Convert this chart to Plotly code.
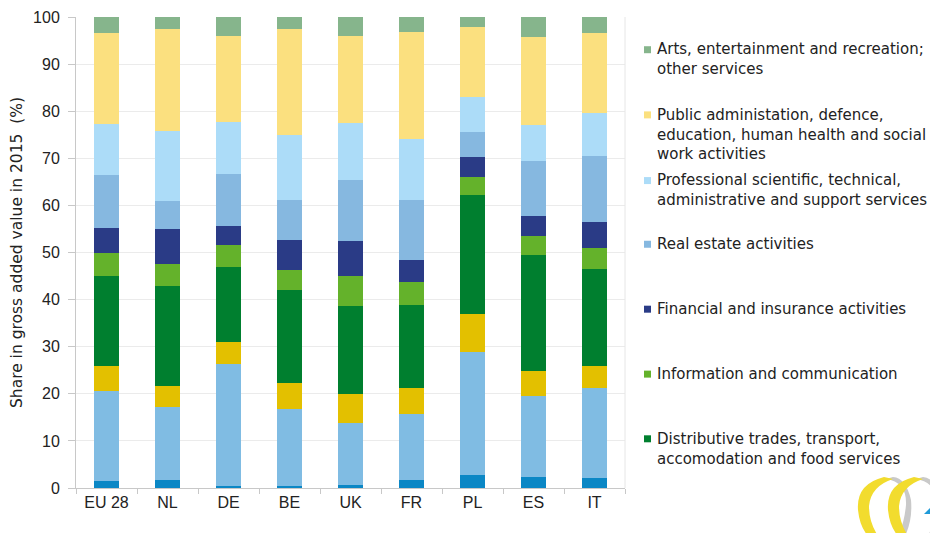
import plotly.graph_objects as go

countries = ["EU 28", "NL", "DE", "BE", "UK", "FR", "PL", "ES", "IT"]

agriculture   = [1.5, 1.7, 0.4, 0.4, 0.6, 1.6, 2.7, 2.4, 2.2]
industry      = [19.0, 15.4, 26.0, 16.4, 13.3, 14.1, 26.2, 17.1, 19.0]
construction  = [5.5, 4.5, 4.7, 5.6, 6.1, 5.5, 8.0, 5.4, 4.8]
distributive  = [19.0, 21.2, 15.8, 19.7, 18.7, 17.6, 25.3, 24.5, 20.5]
information   = [5.0, 4.7, 4.7, 4.2, 6.4, 5.0, 3.9, 4.2, 4.4]
financial     = [5.2, 7.4, 4.1, 6.3, 7.3, 4.6, 4.1, 4.1, 5.5]
real_estate   = [11.3, 6.1, 10.9, 8.5, 12.9, 12.7, 5.3, 11.7, 14.1]
professional  = [10.8, 14.7, 11.1, 13.9, 12.3, 12.9, 7.6, 7.6, 9.2]
public_admin  = [19.2, 21.8, 18.2, 22.5, 18.3, 22.9, 14.8, 18.7, 17.0]
arts          = [3.5, 2.7, 4.1, 2.5, 4.1, 3.1, 2.3, 4.5, 4.1]

series = [
    ("Agriculture, forestry and fishing", agriculture, "#0b87c5", False, None),
    ("Industry", industry, "#80bce3", False, None),
    ("Construction", construction, "#e3c000", False, None),
    ("Distributive trades, transport,<br>accomodation and food services", distributive, "#007f2f", True, 448.5),
    ("Information and communication", information, "#64b22b", True, 374),
    ("Financial and insurance activities", financial, "#2a3b86", True, 309),
    ("Real estate activities", real_estate, "#86b8e0", True, 244),
    ("Professional scientific, technical,<br>administrative and support services", professional, "#acdcf8", True, 190),
    ("Public administation, defence,<br>education, human health and social<br>work activities", public_admin, "#fbe07f", True, 134),
    ("Arts, entertainment and recreation;<br>other services", arts, "#86b58c", True, 59),
]

# reference-pixel -> paper coordinate helpers (plot area 76..625 x 16.5..488)
PX0, PX1, PY0, PY1 = 76.0, 625.0, 16.5, 488.0
def px(x):
    return (x - PX0) / (PX1 - PX0)
def py(y):
    return (PY1 - y) / (PY1 - PY0)

def path(cmds):
    out = []
    for c in cmds:
        if isinstance(c, str):
            out.append(c)
        else:
            out.append("%.5f,%.5f" % (px(c[0]), py(c[1])))
    return " ".join(out)

LINE = 19.5
fig = go.Figure()
annotations = []
shapes = []
for name, vals, color, in_legend, ycen in series:
    fig.add_trace(go.Bar(x=countries, y=vals, name=name.replace("<br>", " "),
                         marker=dict(color=color, line=dict(width=0)),
                         showlegend=False))
    if in_legend:
        nlines = name.count("<br>") + 1
        annotations.append(dict(
            xref="paper", yref="paper", x=px(655), y=py(ycen),
            text=name, showarrow=False, xanchor="left", yanchor="middle", align="left",
            font=dict(family="DejaVu Sans", size=15, color="#222222")))
        first_line_y = ycen - (nlines - 1) * LINE / 2
        shapes.append(dict(type="rect", xref="paper", yref="paper",
                           x0=px(644), x1=px(651),
                           y0=py(first_line_y + 3.5), y1=py(first_line_y - 3.5),
                           fillcolor=color, line=dict(width=0)))

# plot area right border
shapes.append(dict(type="line", xref="paper", yref="paper", x0=1, x1=1, y0=0, y1=1,
                   line=dict(color="#e6e6e6", width=1)))

# small logo in the bottom-right corner
for dx in (0, 30):
    shapes.append(dict(type="path", xref="paper", yref="paper", layer="above",
                       path=path(["M", (886 + dx, 479), "Q", (907 + dx, 482), (906 + dx, 505),
                                  "Q", (904 + dx, 526), (896 + dx, 540), "L", (903 + dx, 540),
                                  "Q", (913 + dx, 522), (911 + dx, 500), "Q", (906 + dx, 478), (893 + dx, 477), "Z"]),
                       fillcolor="#c9c9c9", line=dict(width=0)))
for dx in (0, 30):
    shapes.append(dict(type="path", xref="paper", yref="paper", layer="above",
                       path=path(["M", (884 + dx, 477), "Q", (856 + dx, 484), (858 + dx, 510),
                                  "Q", (860 + dx, 530), (872 + dx, 540), "L", (881 + dx, 540),
                                  "Q", (869 + dx, 525), (869 + dx, 506), "Q", (871 + dx, 486), (893 + dx, 479), "Z"]),
                       fillcolor="#f2dc2e", line=dict(width=0)))
shapes.append(dict(type="path", xref="paper", yref="paper", layer="above",
                   path=path(["M", (924, 514), "L", (940, 498), "L", (940, 514), "Z"]),
                   fillcolor="#1f9ad8", line=dict(width=0)))

# page body has an 8px margin, so figure coordinates = reference - 8
W, H = 930, 525
fig.update_layout(
    barmode="stack",
    bargap=0.6,
    width=W, height=H,
    margin=dict(l=68, r=313, t=8.5, b=45, autoexpand=False),
    paper_bgcolor="white", plot_bgcolor="white",
    font=dict(family="DejaVu Sans", size=14, color="#222222"),
    annotations=annotations,
    shapes=shapes,
    xaxis=dict(showline=True, linecolor="#c8c8c8", ticks="outside", tickson="boundaries",
               ticklen=5, tickcolor="#c8c8c8",
               tickfont=dict(family="Liberation Sans", size=16, color="#222222"),
               showgrid=False, automargin=False),
    yaxis=dict(range=[0, 100], dtick=10, showline=True, linecolor="#c8c8c8",
               gridcolor="#ebebeb",
               tickfont=dict(family="Liberation Sans", size=16, color="#222222"),
               ticks="outside", ticklen=7, tickcolor="#c8c8c8", ticklabelstandoff=5,
               zeroline=False, automargin=False,
               title=dict(text="Share in gross added value in 2015  (%)",
                          font=dict(family="DejaVu Sans", size=15.5, color="#222222"), standoff=6)),
)

fig.write_html("out.html")
